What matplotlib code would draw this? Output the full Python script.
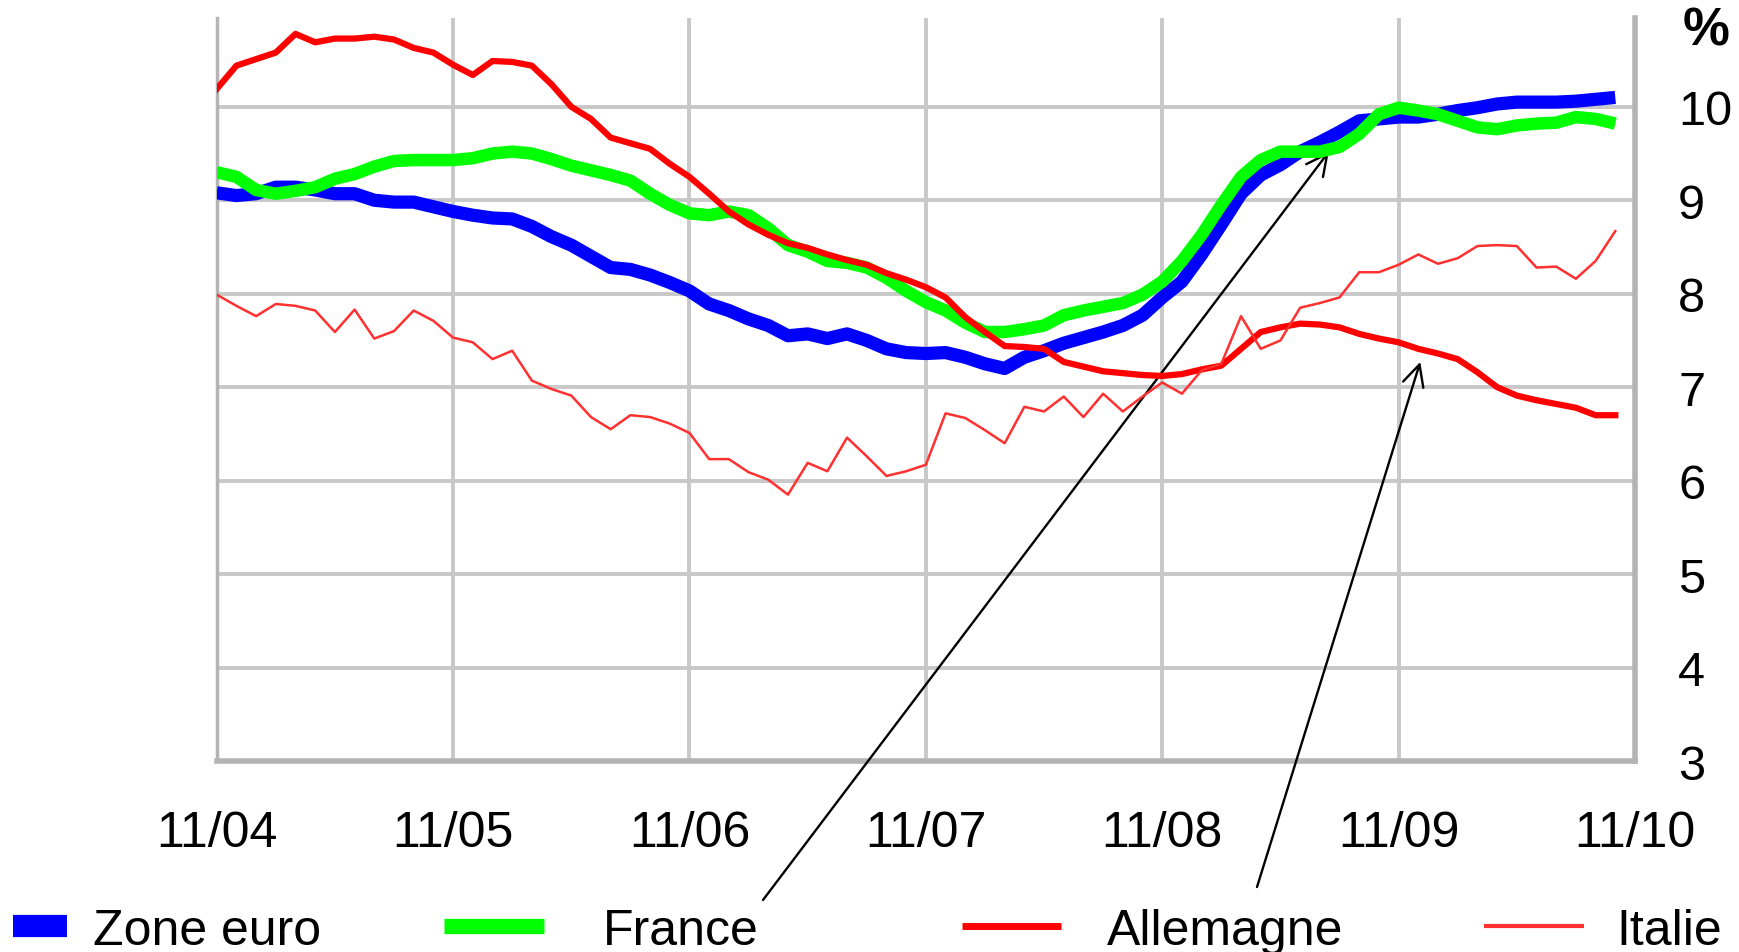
import matplotlib.pyplot as plt
from matplotlib.lines import Line2D

plt.rcParams['font.family'] = ['Liberation Sans', 'DejaVu Sans']

# mois depuis 11/2004
mois = list(range(72))

zone_euro = [9.08, 9.05, 9.07, 9.14, 9.14, 9.11, 9.07, 9.07, 9.00, 8.98, 8.98, 8.93,
             8.88, 8.84, 8.81, 8.80, 8.72, 8.61, 8.52, 8.40, 8.28, 8.26, 8.20, 8.12,
             8.03, 7.89, 7.82, 7.73, 7.66, 7.55, 7.57, 7.52, 7.57, 7.50, 7.41, 7.37,
             7.36, 7.37, 7.32, 7.25, 7.20, 7.32, 7.39, 7.47, 7.53, 7.59, 7.66, 7.77,
             7.96, 8.13, 8.42, 8.74, 9.07, 9.27, 9.38, 9.52, 9.62, 9.73, 9.85, 9.87,
             9.89, 9.89, 9.92, 9.96, 9.99, 10.03, 10.05, 10.05, 10.05, 10.06, 10.08, 10.10]

france = [9.30, 9.25, 9.11, 9.07, 9.10, 9.14, 9.23, 9.28, 9.36, 9.42, 9.43, 9.43,
          9.43, 9.45, 9.50, 9.52, 9.50, 9.44, 9.37, 9.32, 9.27, 9.21, 9.07, 8.95,
          8.86, 8.84, 8.88, 8.84, 8.70, 8.52, 8.45, 8.35, 8.33, 8.28, 8.17, 8.03,
          7.91, 7.82, 7.69, 7.59, 7.59, 7.62, 7.66, 7.77, 7.82, 7.86, 7.90, 7.99,
          8.13, 8.35, 8.63, 8.95, 9.25, 9.43, 9.52, 9.52, 9.52, 9.57, 9.71, 9.92,
          9.99, 9.96, 9.92, 9.85, 9.78, 9.76, 9.80, 9.82, 9.83, 9.89, 9.87, 9.82]

allemagne = [10.19, 10.44, 10.51, 10.58, 10.78, 10.69, 10.73, 10.73, 10.75, 10.72, 10.63, 10.58,
             10.45, 10.34, 10.49, 10.48, 10.44, 10.24, 10.00, 9.87, 9.67, 9.61, 9.55, 9.39,
             9.25, 9.07, 8.88, 8.74, 8.63, 8.54, 8.49, 8.42, 8.36, 8.31, 8.22, 8.15,
             8.07, 7.96, 7.75, 7.59, 7.44, 7.43, 7.41, 7.27, 7.22, 7.17, 7.15, 7.13,
             7.12, 7.14, 7.19, 7.23, 7.41, 7.59, 7.64, 7.68, 7.67, 7.64, 7.57, 7.52,
             7.48, 7.41, 7.36, 7.30, 7.16, 7.00, 6.91, 6.86, 6.82, 6.78, 6.70, 6.70]

italie = [7.99, 7.87, 7.76, 7.89, 7.87, 7.82, 7.59, 7.83, 7.52, 7.60, 7.82, 7.71,
          7.53, 7.48, 7.30, 7.39, 7.07, 6.98, 6.91, 6.68, 6.55, 6.70, 6.68, 6.61,
          6.51, 6.23, 6.23, 6.09, 6.01, 5.85, 6.19, 6.10, 6.46, 6.26, 6.05, 6.10,
          6.17, 6.72, 6.67, 6.54, 6.40, 6.79, 6.74, 6.90, 6.68, 6.93, 6.74, 6.90,
          7.05, 6.93, 7.18, 7.25, 7.76, 7.41, 7.50, 7.85, 7.90, 7.96, 8.23, 8.23,
          8.31, 8.42, 8.32, 8.38, 8.51, 8.52, 8.51, 8.28, 8.29, 8.16, 8.35, 8.67]

dates = ['11/04', '11/05', '11/06', '11/07', '11/08', '11/09', '11/10']

fig = plt.figure(figsize=(17.4, 9.53), dpi=100)
ax = fig.add_axes([216.7 / 1740, 1 - 762 / 953, (1635 - 216.7) / 1740, (762 - 19) / 953])

ax.plot(mois, zone_euro, color='#0000ff', lw=9.5, solid_capstyle='butt', zorder=3)
ax.plot(mois, france, color='#00ff00', lw=9, solid_capstyle='butt', zorder=4)
ax.plot(mois, allemagne, color='#ff0000', lw=4.5, zorder=5)
ax.plot(mois, italie, color='#ff3030', lw=1.8, zorder=6)

ax.set_xlim(0, 72)
ax.set_ylim(3, 10.95)
ax.set_xticks(range(0, 73, 12))
ax.set_xticklabels(dates)
ax.set_yticks(range(3, 11))
ax.yaxis.tick_right()
ax.tick_params(axis='x', length=0, pad=35, labelsize=36)
ax.tick_params(axis='y', length=0, pad=31, labelsize=35)
ax.grid(True, color='#c8c8c8', lw=2.8, zorder=1)
ax.set_axisbelow(True)

ax.spines['top'].set_visible(False)
ax.spines['left'].set_color('#b4b4b4')
ax.spines['left'].set_linewidth(2.5)
ax.spines['bottom'].set_color('#b4b4b4')
ax.spines['bottom'].set_linewidth(4)
ax.spines['right'].set_color('#b4b4b4')
ax.spines['right'].set_linewidth(4)

fig.text(1706 / 1740, 1 - 32 / 953, '%', fontsize=38, fontweight='bold',
         ha='center', va='center')

# fleches
ax.annotate('', xy=(56.46, 9.52), xytext=(763, 52), textcoords='figure pixels',
            arrowprops=dict(arrowstyle='->', color='black', lw=1.7,
                            mutation_scale=38, shrinkA=0, shrinkB=0))
ax.annotate('', xy=(61.1, 7.27), xytext=(1257, 65), textcoords='figure pixels',
            arrowprops=dict(arrowstyle='->', color='black', lw=1.7,
                            mutation_scale=38, shrinkA=0, shrinkB=0))

# legende
ly = 1 - 927 / 953
legende = [
    (13, 67, '#0000ff', 16, 93, 'Zone euro'),
    (444, 544, '#00ff00', 11, 603, 'France'),
    (962, 1061, '#ff0000', 5, 1107, 'Allemagne'),
    (1484, 1584, '#ff3030', 3, 1616, 'Italie'),
]
for x0, x1, couleur, lw, xt, nom in legende:
    fig.add_artist(Line2D([x0 / 1740, x1 / 1740], [ly, ly], color=couleur, lw=lw,
                          solid_capstyle='butt'))
    fig.text(xt / 1740, ly, nom, fontsize=36, ha='left', va='center_baseline')

fig.savefig('out.png', dpi=100)
